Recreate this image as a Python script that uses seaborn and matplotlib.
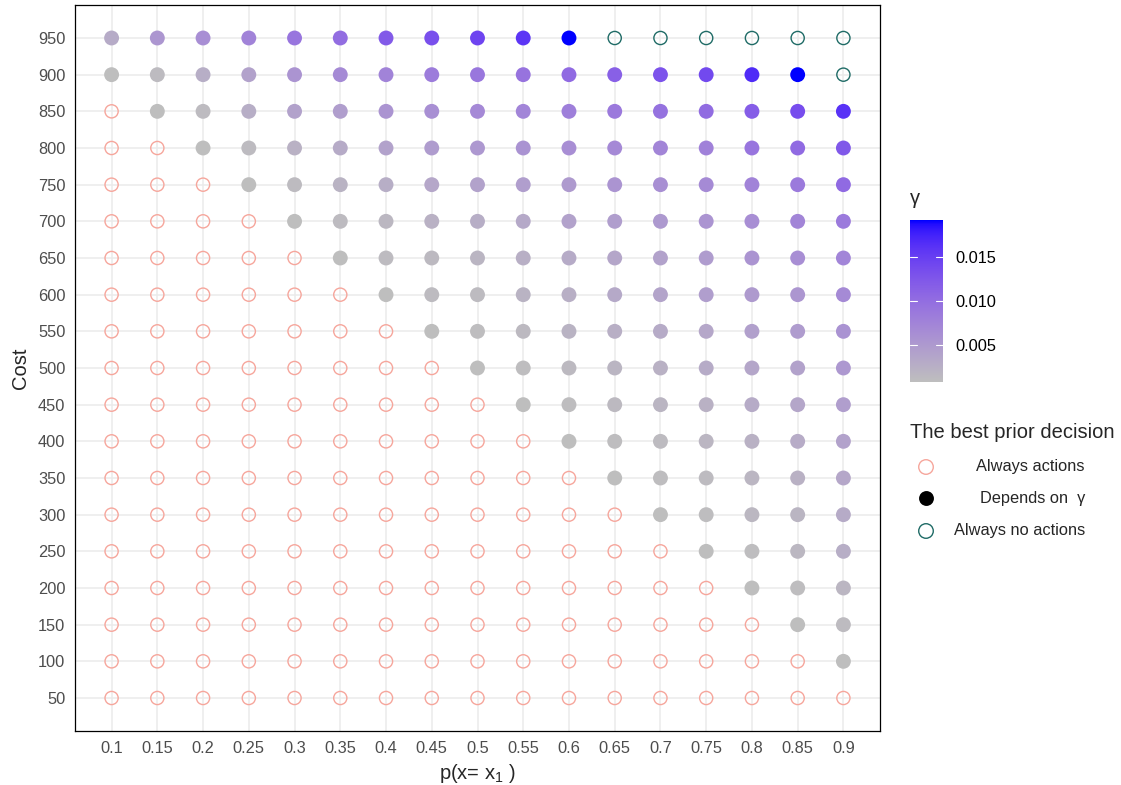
import numpy as np
import pandas as pd
import matplotlib
matplotlib.use('Agg')
import matplotlib.pyplot as plt
from matplotlib.colors import LinearSegmentedColormap, Normalize
import matplotlib.cm as cm
import seaborn as sns

# grid of prior probabilities and costs
p_vals = [0.1, 0.15, 0.2, 0.25, 0.3, 0.35, 0.4, 0.45, 0.5, 0.55,
          0.6, 0.65, 0.7, 0.75, 0.8, 0.85, 0.9]
cost_vals = [50, 100, 150, 200, 250, 300, 350, 400, 450, 500,
             550, 600, 650, 700, 750, 800, 850, 900, 950]

# range of cost (per p) where the best decision depends on gamma
depends_low = [900, 850, 800, 750, 700, 650, 600, 550, 500, 450,
               400, 350, 300, 250, 200, 150, 100]
depends_high = [950, 950, 950, 950, 950, 950, 950, 950, 950, 950,
                950, 900, 900, 900, 900, 900, 850]

# gamma for each p, from depends_low upwards
gamma_by_p = [
    [0.0008, 0.0030],
    [0.0008, 0.0012, 0.0054],
    [0.0008, 0.0012, 0.0027, 0.0063],
    [0.0008, 0.0012, 0.0027, 0.0041, 0.0076],
    [0.0008, 0.0012, 0.0023, 0.0040, 0.0056, 0.0091],
    [0.0008, 0.0012, 0.0021, 0.0030, 0.0045, 0.0067, 0.0100],
    [0.0008, 0.0012, 0.0016, 0.0027, 0.0040, 0.0056, 0.0076, 0.0122],
    [0.0008, 0.0012, 0.0014, 0.0023, 0.0034, 0.0047, 0.0062, 0.0084, 0.0133],
    [0.0008, 0.0010, 0.0012, 0.0019, 0.0027, 0.0041, 0.0052, 0.0069, 0.0089, 0.0144],
    [0.0008, 0.0010, 0.0014, 0.0021, 0.0025, 0.0032, 0.0045, 0.0058, 0.0074, 0.0093, 0.0159],
    [0.0008, 0.0010, 0.0014, 0.0021, 0.0025, 0.0030, 0.0040, 0.0049, 0.0063, 0.0080, 0.0104, 0.0192],
    [0.0008, 0.0010, 0.0014, 0.0019, 0.0025, 0.0032, 0.0036, 0.0045, 0.0056, 0.0069, 0.0087, 0.0115],
    [0.0008, 0.0010, 0.0012, 0.0019, 0.0023, 0.0030, 0.0038, 0.0041, 0.0051, 0.0062, 0.0073, 0.0095, 0.0129],
    [0.0008, 0.0010, 0.0012, 0.0017, 0.0023, 0.0030, 0.0034, 0.0045, 0.0047, 0.0056, 0.0067, 0.0078, 0.0102, 0.0140],
    [0.0008, 0.0010, 0.0016, 0.0017, 0.0023, 0.0030, 0.0036, 0.0043, 0.0049, 0.0056, 0.0063, 0.0076, 0.0091, 0.0118, 0.0168],
    [0.0008, 0.0010, 0.0016, 0.0019, 0.0023, 0.0029, 0.0036, 0.0041, 0.0047, 0.0054, 0.0063, 0.0073, 0.0085, 0.0104, 0.0135, 0.0192],
    [0.0008, 0.0012, 0.0017, 0.0027, 0.0030, 0.0034, 0.0040, 0.0045, 0.0052, 0.0058, 0.0067, 0.0074, 0.0085, 0.0104, 0.0124, 0.0162],
]

legend_labels = ['Always actions', 'Depends on  γ', 'Always no actions']
col_act = '#F6A69C'
col_noact = '#1F6B66'


# ggplot-like grey -> blue gradient, interpolated in Lab space
M = np.array([[0.4124, 0.3576, 0.1805],
              [0.2126, 0.7152, 0.0722],
              [0.0193, 0.1192, 0.9505]])
WHITE = np.array([0.95047, 1.0, 1.08883])


def to_lab(rgb):
    rgb = np.asarray(rgb, float)
    lin = np.where(rgb <= 0.04045, rgb / 12.92, ((rgb + 0.055) / 1.055) ** 2.4)
    xyz = M @ lin / WHITE
    f = np.where(xyz > 0.008856, np.cbrt(xyz), 7.787 * xyz + 16 / 116)
    return np.array([116 * f[1] - 16, 500 * (f[0] - f[1]), 200 * (f[1] - f[2])])


def from_lab(lab):
    L, a, b = lab
    fy = (L + 16) / 116
    f = np.array([fy + a / 500, fy, fy - b / 200])
    xyz = np.where(f ** 3 > 0.008856, f ** 3, (f - 16 / 116) / 7.787) * WHITE
    lin = np.clip(np.linalg.inv(M) @ xyz, 0, 1)
    rgb = np.where(lin <= 0.0031308, 12.92 * lin, 1.055 * lin ** (1 / 2.4) - 0.055)
    return np.clip(rgb, 0, 1)


lab0 = to_lab([190 / 255, 190 / 255, 190 / 255])
lab1 = to_lab([0, 0, 1])
ramp = [from_lab(lab0 + t * (lab1 - lab0)) for t in np.linspace(0, 1, 64)]
cmap = LinearSegmentedColormap.from_list('grey_blue', ramp)

# long table
rows = []
for i, p in enumerate(p_vals):
    lo = cost_vals.index(depends_low[i])
    for j, c in enumerate(cost_vals):
        if c < depends_low[i]:
            rows.append((p, c, 'act', np.nan))
        elif c > depends_high[i]:
            rows.append((p, c, 'noact', np.nan))
        else:
            rows.append((p, c, 'dep', gamma_by_p[i][j - lo]))
df = pd.DataFrame(rows, columns=['p', 'cost', 'decision', 'gamma'])
dep = df[df['decision'] == 'dep']
gmin, gmax = dep['gamma'].min(), dep['gamma'].max()

sns.set_style('white')
plt.rcParams['font.family'] = ['Liberation Sans', 'DejaVu Sans']
plt.rcParams['mathtext.fontset'] = 'custom'
plt.rcParams['mathtext.rm'] = 'Liberation Sans'
plt.rcParams['mathtext.it'] = 'Liberation Sans'

W, H = 1121, 785
fig = plt.figure(figsize=(W / 100, H / 100), dpi=100)
ax = fig.add_axes([75 / W, 1 - 731 / H, 805 / W, 726 / H])

act = df[df['decision'] == 'act']
noact = df[df['decision'] == 'noact']
ax.scatter(act['p'], act['cost'], s=90, facecolors='none', edgecolors=col_act,
           linewidths=1.0, zorder=3)
ax.scatter(noact['p'], noact['cost'], s=90, facecolors='none', edgecolors=col_noact,
           linewidths=1.0, zorder=3)
sns.scatterplot(data=dep, x='p', y='cost', hue='gamma', palette=cmap,
                hue_norm=(gmin, gmax), s=115, linewidth=0, legend=False,
                ax=ax, zorder=3)

ax.set_xlim(0.06, 0.94)
ax.set_ylim(5, 995)
ax.set_xticks(p_vals)
ax.set_xticklabels([f'{v:g}' for v in p_vals])
ax.set_yticks(cost_vals)
ax.grid(True, color='#EBEBEB', lw=1.1)
ax.set_axisbelow(True)
for s in ax.spines.values():
    s.set_color('black')
    s.set_linewidth(0.9)
ax.tick_params(length=4, width=0.8, color='#333333', labelcolor='#4D4D4D',
               labelsize=11.8, pad=3)
ax.set_xlabel('p(x= x$_1$ )', fontsize=14.5)
ax.xaxis.set_label_coords(0.5, -0.058)
ax.xaxis.label.set_va('center')
ax.set_ylabel('Cost', fontsize=14.5)
ax.yaxis.set_label_coords(-0.068, 0.5)
ax.yaxis.label.set_va('center')

# colour bar
cax = fig.add_axes([910 / W, 1 - 382 / H, 33 / W, 162 / H])
sm = cm.ScalarMappable(norm=Normalize(gmin, gmax), cmap=cmap)
cb = fig.colorbar(sm, cax=cax)
cb.outline.set_visible(False)
cb.set_ticks([0.005, 0.010, 0.015])
cb.set_ticklabels(['0.005', '0.010', '0.015'])
cax.tick_params(length=0, labelsize=11.8, labelcolor='black', pad=9)
for t in [0.005, 0.010, 0.015]:
    cax.plot([0, 0.2], [t, t], color='white', lw=0.8, transform=cax.get_yaxis_transform())
    cax.plot([0.8, 1], [t, t], color='white', lw=0.8, transform=cax.get_yaxis_transform())
fig.text(910 / W, 1 - 198 / H, 'γ', fontsize=14.5, va='center', ha='left')

# decision legend drawn in pixel coordinates
lax = fig.add_axes([0, 0, 1, 1])
lax.set_xlim(0, W)
lax.set_ylim(H, 0)
lax.axis('off')
lax.text(910, 432, 'The best prior decision', fontsize=14.5, va='center', ha='left')
ys = [467, 498, 531]
lax.scatter([926], [ys[0]], s=110, facecolors='none', edgecolors=col_act, linewidths=1.0)
lax.scatter([926], [ys[1]], s=115, color='black', linewidths=0)
lax.scatter([926], [ys[2]], s=110, facecolors='none', edgecolors=col_noact, linewidths=1.0)
for y, lab in zip(ys, legend_labels):
    lax.text(1085, y, lab, fontsize=11.8, va='center', ha='right')

fig.savefig('out.png', dpi=100)
